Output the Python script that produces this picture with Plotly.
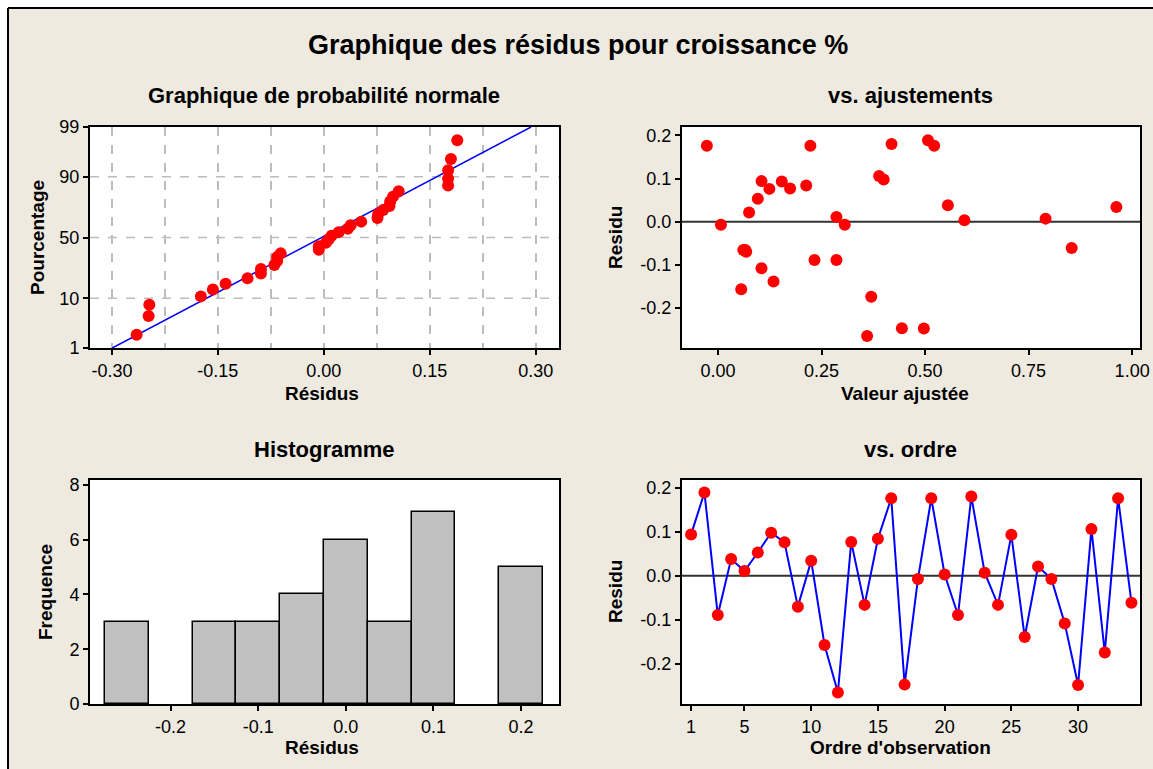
import plotly.graph_objects as go
from statistics import NormalDist
import math

# ---- data ----
residus = [0.094, 0.189, -0.089, 0.038, 0.011, 0.053, 0.098, 0.076, -0.070, 0.034,
           -0.157, -0.265, 0.077, -0.066, 0.084, 0.176, -0.247, -0.007, 0.176, 0.003,
           -0.089, 0.180, 0.007, -0.066, 0.093, -0.139, 0.021, -0.007, -0.108, -0.248,
           0.106, -0.174, 0.176, -0.061]
ajustees = [0.105, 0.507, 0.233, 0.555, 0.286, 0.096, 0.400, 0.124, 0.068, 0.962,
            0.056, 0.360, 0.174, 0.061, 0.213, -0.027, 0.444, 0.007, 0.223, 0.595,
            0.286, 0.419, 0.791, 0.066, 0.154, 0.134, 0.075, 0.306, 0.105, 0.497,
            0.389, 0.370, 0.522, 0.854]
prob_ticks_pct = [1, 10, 50, 90, 99]
prob_grid_pct = [10, 50, 90]
prob_x_ticks = [-0.30, -0.15, 0.00, 0.15, 0.30]
fit_x_ticks = [0.00, 0.25, 0.50, 0.75, 1.00]
resid_y_ticks = [-0.2, -0.1, 0.0, 0.1, 0.2]
hist_x_ticks = [-0.2, -0.1, 0.0, 0.1, 0.2]
hist_y_ticks = [0, 2, 4, 6, 8]
order_x_ticks = [1, 5, 10, 15, 20, 25, 30]

W, H = 1153, 769
BEIGE = "#EEEAE0"
FONT = "Liberation Sans"

n = len(residus)
nd = NormalDist()
srt = sorted(residus)
zpos = [nd.inv_cdf((i - 0.3) / (n + 0.4)) for i in range(1, n + 1)]
mu = sum(residus) / n
sd = math.sqrt(sum((r - mu) ** 2 for r in residus) / (n - 1))
zlo, zhi = nd.inv_cdf(0.01), nd.inv_cdf(0.99)
ordre = list(range(1, n + 1))

def lab(vals, d):
    return [f"{v:.{d}f}" for v in vals]

fig = go.Figure()

# Normal probability plot
fig.add_trace(go.Scatter(x=[mu + sd * zlo, mu + sd * zhi], y=[zlo, zhi], mode="lines",
                         line=dict(color="#0000FF", width=1.5), xaxis="x", yaxis="y",
                         showlegend=False, hoverinfo="skip"))
fig.add_trace(go.Scatter(x=srt, y=zpos, mode="markers",
                         marker=dict(color="#FF0000", size=12), xaxis="x", yaxis="y",
                         showlegend=False))
# vs fitted
fig.add_trace(go.Scatter(x=ajustees, y=residus, mode="markers",
                         marker=dict(color="#FF0000", size=12), xaxis="x2", yaxis="y2",
                         showlegend=False))
# histogram
fig.add_trace(go.Histogram(x=residus, xbins=dict(start=-0.275, end=0.275, size=0.05),
                           marker=dict(color="#C0C0C0", line=dict(color="black", width=1.5)),
                           xaxis="x3", yaxis="y3", showlegend=False))
# vs order
fig.add_trace(go.Scatter(x=ordre, y=residus, mode="lines+markers",
                         line=dict(color="#0000FF", width=2),
                         marker=dict(color="#FF0000", size=12), xaxis="x4", yaxis="y4",
                         showlegend=False))

xl = [90 / W, 559 / W]
xr = [682 / W, 1140 / W]
yt = [1 - 348 / H, 1 - 127 / H]
yb = [1 - 704 / H, 1 - 480 / H]

tickfont = dict(family=FONT, size=18, color="black")
common = dict(showline=True, mirror=True, linecolor="black", linewidth=2,
              ticks="outside", ticklen=5, tickwidth=1.5, tickcolor="black",
              tickfont=tickfont, zeroline=False, fixedrange=True, automargin=False)

fig.update_layout(
    template="none",
    width=W, height=H, margin=dict(l=0, r=0, t=0, b=0, pad=0), autosize=False,
    paper_bgcolor=BEIGE, plot_bgcolor="white", bargap=0,
    font=dict(family=FONT, color="black"),
    xaxis=dict(domain=xl, anchor="y", range=[-0.331, 0.333],
               tickvals=prob_x_ticks, ticktext=lab(prob_x_ticks, 2),
               showgrid=True, gridcolor="#BDBDBD", gridwidth=1.5, griddash="dash",
               minor=dict(tick0=-0.3, dtick=0.075, showgrid=True, gridcolor="#BDBDBD",
                          gridwidth=1.5, griddash="dash", ticks=""),
               **common),
    yaxis=dict(domain=yt, anchor="x", range=[zlo, zhi],
               tickvals=[nd.inv_cdf(p / 100) for p in prob_ticks_pct],
               ticktext=[str(p) for p in prob_ticks_pct], showgrid=False,
               **common),
    xaxis2=dict(domain=xr, anchor="y2", range=[-0.087, 1.019],
                tickvals=fit_x_ticks, ticktext=lab(fit_x_ticks, 2), showgrid=False, **common),
    yaxis2=dict(domain=yt, anchor="x2", range=[-0.293, 0.2195],
                tickvals=resid_y_ticks, ticktext=lab(resid_y_ticks, 1), showgrid=False, **common),
    xaxis3=dict(domain=xl, anchor="y3", range=[-0.292, 0.2433],
                tickvals=hist_x_ticks, ticktext=lab(hist_x_ticks, 1), showgrid=False, **common),
    yaxis3=dict(domain=yb, anchor="x3", range=[0, 8.18],
                tickvals=hist_y_ticks, ticktext=[str(v) for v in hist_y_ticks],
                showgrid=False, **common),
    xaxis4=dict(domain=xr, anchor="y4", range=[0.318, 34.64],
                tickvals=order_x_ticks, ticktext=[str(v) for v in order_x_ticks],
                showgrid=False, **common),
    yaxis4=dict(domain=yb, anchor="x4", range=[-0.291, 0.2175],
                tickvals=resid_y_ticks, ticktext=lab(resid_y_ticks, 1), showgrid=False, **common),
)

shapes = [
    # white strips outside the frame (top and left)
    dict(type="rect", xref="paper", yref="paper", x0=0, x1=1, y0=1 - 8 / H, y1=1,
         fillcolor="white", line=dict(width=0), layer="below"),
    dict(type="rect", xref="paper", yref="paper", x0=0, x1=8 / W, y0=0, y1=1,
         fillcolor="white", line=dict(width=0), layer="below"),
    dict(type="line", xref="paper", yref="paper", x0=8 / W, x1=1, y0=1 - 8 / H, y1=1 - 8 / H,
         line=dict(color="black", width=2)),
    dict(type="line", xref="paper", yref="paper", x0=8 / W, x1=8 / W, y0=0, y1=1 - 8 / H,
         line=dict(color="black", width=2)),
]
for pct in prob_grid_pct:
    zz = nd.inv_cdf(pct / 100)
    shapes.append(dict(type="line", xref="x domain", yref="y", x0=0, x1=1, y0=zz, y1=zz,
                       line=dict(color="#BDBDBD", width=1.5, dash="dash"), layer="below"))
for ax in ["2", "4"]:
    shapes.append(dict(type="line", xref=f"x{ax} domain", yref=f"y{ax}", x0=0, x1=1, y0=0, y1=0,
                       line=dict(color="#333333", width=2), layer="below"))
fig.update_layout(shapes=shapes)

def txt(s, x, y, size, bold=True, angle=0):
    fig.add_annotation(text=f"<b>{s}</b>" if bold else s, x=x / W, y=1 - y / H,
                       xref="paper", yref="paper", showarrow=False, textangle=angle,
                       font=dict(family=FONT, size=size, color="black"),
                       xanchor="center", yanchor="middle")

txt("Graphique des résidus pour croissance %", 578, 45, 27)
txt("Graphique de probabilité normale", 324, 95, 22)
txt("vs. ajustements", 910, 95, 22)
txt("Histogramme", 324, 449, 22)
txt("vs. ordre", 910, 449, 22)
txt("Résidus", 322, 393, 19)
txt("Valeur ajustée", 905, 393, 19)
txt("Résidus", 322, 747, 19)
txt("Ordre d'observation", 900, 747, 19)
txt("Pourcentage", 37, 238, 19, angle=-90)
txt("Residu", 615, 238, 19, angle=-90)
txt("Frequence", 45, 592, 19, angle=-90)
txt("Residu", 615, 592, 19, angle=-90)

fig.write_html("out.html", config={"displayModeBar": False},
               post_script="document.body.style.margin='0';"
                           "document.body.style.overflow='hidden';"
                           "document.documentElement.style.overflow='hidden';")
